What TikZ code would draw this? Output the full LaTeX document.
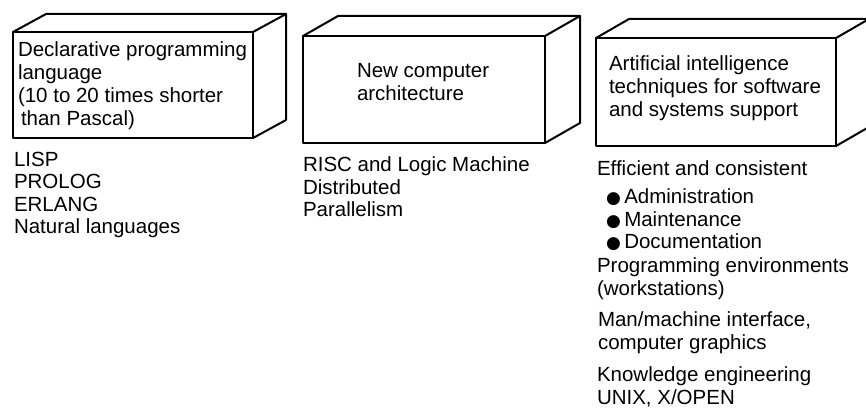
\documentclass[tikz,border=0pt]{standalone}
\usepackage{fontspec}
\setmainfont{Liberation Sans}
\newfontfamily\bulletfont{DejaVu Sans}
\tikzset{
  edge/.style={line width=2pt, line join=round, line cap=round},
  txt/.style={inner sep=0pt, outer sep=0pt, anchor=north west, align=left,
    font=\fontsize{20.5}{22.5}\selectfont},
  boxtxt/.style={txt, font=\fontsize{20.5}{23}\selectfont}
}
\newcommand{\cuboid}[6]{% x1 y1 x2 y2 dx dy
  \draw[edge] (#1,#2) rectangle (#3,#4);
  \draw[edge] (#1,#2) -- ++(#5,#6) -- (#3+#5,#2+#6) -- (#3,#2);
  \draw[edge] (#3+#5,#2+#6) -- (#3+#5,#4+#6) -- (#3,#4);
}
\newcommand{\bl}{{\bulletfont\fontsize{17}{17}\selectfont ●}\,}
\begin{document}
\begin{tikzpicture}[x=1pt,y=-1pt]
\useasboundingbox (0,0) rectangle (866,412);
\fill[white] (0,0) rectangle (866,412);
% boxes
\cuboid{13}{32}{253}{138}{33}{-18}
\cuboid{303}{36}{545}{143}{35}{-20}
\cuboid{596}{38}{836}{146}{33}{-19}
% box texts
\node[boxtxt] (t1) at (18,42) {Declarative programming\\language\\(10 to 20 times shorter\\\hspace*{3pt}than Pascal)};
\node[boxtxt] (t2) at (357,63) {New computer\\architecture};
\node[boxtxt] (t3) at (609,56) {Artificial intelligence\\techniques for software\\and systems support};
% lists
\node[txt] (l1) at (14,152) {LISP\\PROLOG\\ERLANG\\Natural languages};
\node[txt] (l2) at (303,157) {RISC and Logic Machine\\Distributed\\Parallelism};
\node[txt] (l3a) at (597,161) {Efficient and consistent};
\node[txt] (l3b) at (606,189) {\bl Administration\\\bl Maintenance\\\bl Documentation};
\node[txt] (l3c) at (597,258) {Programming environments\\(workstations)};
\node[txt] (l3d) at (598,312) {Man/machine interface,\\computer graphics};
\node[txt] (l3e) at (597,367) {Knowledge engineering\\UNIX, X/OPEN};
\end{tikzpicture}
\end{document}
